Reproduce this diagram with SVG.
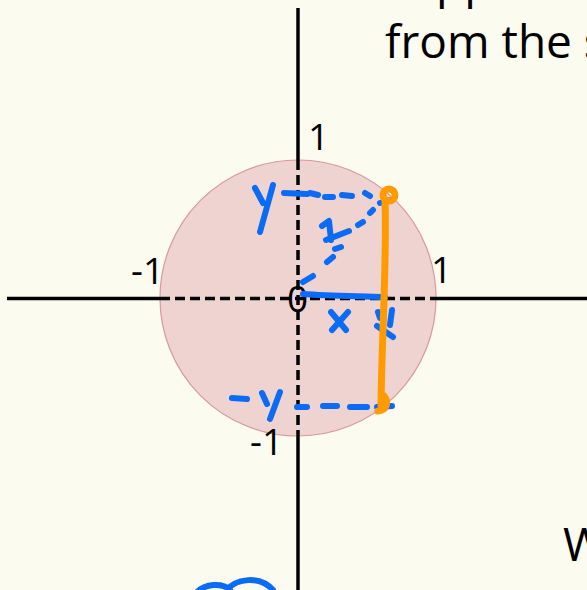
<svg xmlns="http://www.w3.org/2000/svg" width="587" height="590" viewBox="0 0 587 590">
<style>
.txt{font-family:"Open Sans","DejaVu Sans",sans-serif;fill:#000}
.ax{stroke:#000;stroke-width:3.5;fill:none}
.dash{stroke:#000;stroke-width:3.5;stroke-dasharray:10 5;fill:none}
.blue{stroke:#0a6cf5;stroke-width:6;stroke-linecap:round;stroke-linejoin:round;fill:none}
.orange{stroke:#ff9a00;stroke-width:7;stroke-linecap:round;stroke-linejoin:round;fill:none}
</style>
<rect width="587" height="590" fill="#fbfbef"/>
<text class="txt" x="436" y="-2" font-size="46">pp</text>
<text class="txt" x="385" y="58" font-size="46">from the s</text>
<text class="txt" x="563" y="561" font-size="46">W</text>
<g id="circle"><circle cx="298" cy="298" r="138" fill="#eed3d0" stroke="#d69a9a" stroke-width="1.2"/></g>
<g id="axes">
<line class="ax" x1="298" y1="8" x2="298" y2="160"/>
<line class="ax" x1="298" y1="436" x2="298" y2="590"/>
<line class="ax" x1="7" y1="298.5" x2="160" y2="298.5"/>
<line class="ax" x1="436" y1="298.5" x2="587" y2="298.5"/>
<line class="dash" x1="298" y1="160" x2="298" y2="436"/>
<line class="dash" x1="160" y1="298.5" x2="436" y2="298.5"/>
</g>
<g id="labels">
<text class="txt" x="308" y="150" font-size="37">1</text>
<text class="txt" x="131" y="284" font-size="37">-1</text>
<text class="txt" x="431" y="283" font-size="37">1</text>
<text class="txt" x="250" y="455" font-size="37">-1</text>
<text class="txt" x="287" y="312" font-size="37">0</text>
</g>
<g id="handwriting">
<path class="blue" d="M255,188 L263,203 M273,185 L260,232"/>
<path class="blue" d="M284,193 L307,194"/>
<path class="blue" d="M310,193 L318,195 M325,197 L333,197 M342,195 L352,196 M365,193 L370,196 M380,203 L390,200"/>
<path class="blue" d="M303,282 L313,276 M327,262 L333,257 M358,225 L363,222 M370,213 L373,210"/>
<path class="blue" d="M322,226 L329,221 L331,240 M326,240 L349,231 M335,249 L341,247"/>
<path class="blue" d="M303,294 C330,296 360,296 385,297" stroke-width="7"/>
<path class="blue" d="M331,312 L346,330 M348,312 L332,330"/>
<path class="blue" d="M378,312 L380,318 M392,310 L390,325 M377,326 L393,337"/>
<path class="blue" d="M232,398 L247,399 M262,393 L267,404 M280,392 L270,419"/>
<path class="blue" d="M297,407 L307,407 M323,406 L337,406 M350,407 L367,407 M377,407 L392,406"/>
<path class="blue" d="M197,592 C205,584 222,582 230,590 M225,592 C235,578 260,575 273,590"/>
</g>
<g id="orange">
<circle class="orange" cx="389" cy="195" r="6" stroke-width="4.5"/>
<path class="orange" d="M385,200 C387,260 382,330 381,405" stroke-width="8"/>
<path class="orange" d="M384,396 C389,402 387,410 378,411" stroke-width="8"/>
</g>
</svg>
